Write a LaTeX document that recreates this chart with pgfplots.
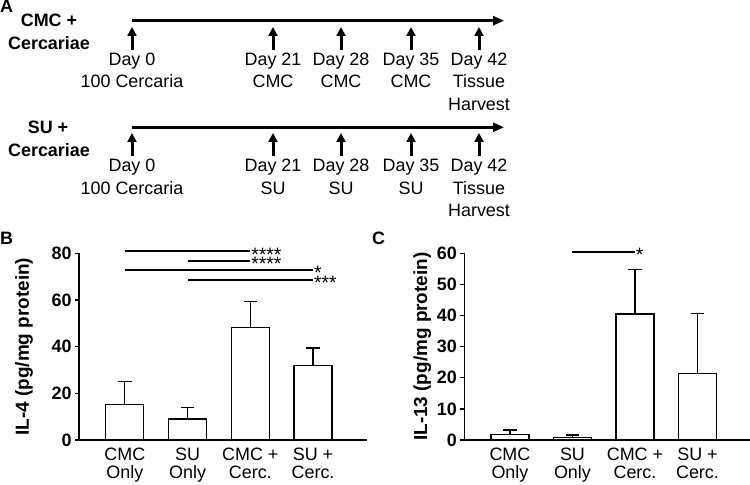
\documentclass[border=0pt]{standalone}
\usepackage{pgfplots}
\pgfplotsset{compat=1.18}
\usepackage{fontspec}
\setmainfont{Liberation Sans}
\usetikzlibrary{arrows.meta}
\newcommand\fs{\fontsize{18}{22.5}\selectfont}
\newcommand\sfs{\fontsize{19.5}{20}\selectfont}

\pgfplotsset{
  barpanel/.style={
    scale only axis, anchor=south west, clip=false,
    axis x line=bottom, axis y line=left, axis line style={-, line width=1.3bp},
    xtick={1,2,3,4},
    xticklabels={CMC\\Only, SU\\Only, CMC +\\Cerc., SU +\\Cerc.},
    xticklabel style={align=center, font=\fontsize{18}{19}\selectfont},
    x tick style={draw=none},
    y tick style={line width=1.3bp, black},
    tick align=outside, major tick length=4bp,
    yticklabel style={font=\bfseries\fontsize{18}{20}\selectfont},
    /pgf/number format/assume math mode=true,
    ylabel style={font=\bfseries\fontsize{19}{20}\selectfont, anchor=center},
    ybar, bar width=38bp,
  },
  barstyle/.style={
    fill=white, draw=black, line width=1.3bp,
    error bars/.cd, y dir=plus, y explicit,
    error bar style={line width=1.3bp, black},
    error mark options={rotate=90, line width=1.3bp, mark size=6.7bp, black},
  },
}

\begin{document}
\begin{tikzpicture}[x=1bp,y=-1bp]
\useasboundingbox (0,0) rectangle (750,485);
\coordinate (Bo) at (79,440);
\coordinate (Co) at (464.3,440);

% ---------- Panel A ----------
\node[anchor=base west, inner sep=0, font=\bfseries\fs] at (0,13) {A};
\node[anchor=base west, inner sep=0, font=\bfseries\fs] at (0,245) {B};
\node[anchor=base west, inner sep=0, font=\bfseries\fs] at (372,245) {C};

\node[anchor=base, inner sep=0, font=\bfseries\fs] at (49,26.7) {CMC +};
\node[anchor=base, inner sep=0, font=\bfseries\fs] at (49,50) {Cercariae};
\node[anchor=base, inner sep=0, font=\bfseries\fs] at (48,133.3) {SU +};
\node[anchor=base, inner sep=0, font=\bfseries\fs] at (49,156.7) {Cercariae};

\draw[line width=3.3bp, -{Triangle[length=11bp,width=9bp]}] (132,20.7) -- (504,20.7);
\draw[line width=3.3bp, -{Triangle[length=11bp,width=9bp]}] (132,127.3) -- (504,127.3);

\foreach \xx in {132,273,341,411,479}{
  \draw[line width=3bp, -{Triangle[length=9bp,width=9bp]}] (\xx,50) -- (\xx,27);
  \draw[line width=3bp, -{Triangle[length=9bp,width=9bp]}] (\xx,156) -- (\xx,133);
}

% timeline 1 labels
\node[anchor=base, inner sep=0, font=\fs] at (132,65.5) {Day 0};
\node[anchor=base, inner sep=0, font=\fs] at (132,88) {100 Cercaria};
\node[anchor=base, inner sep=0, font=\fs] at (273,65.5) {Day 21};
\node[anchor=base, inner sep=0, font=\fs] at (273,88) {CMC};
\node[anchor=base, inner sep=0, font=\fs] at (341,65.5) {Day 28};
\node[anchor=base, inner sep=0, font=\fs] at (341,88) {CMC};
\node[anchor=base, inner sep=0, font=\fs] at (411,65.5) {Day 35};
\node[anchor=base, inner sep=0, font=\fs] at (411,88) {CMC};
\node[anchor=base, inner sep=0, font=\fs] at (479,65.5) {Day 42};
\node[anchor=base, inner sep=0, font=\fs] at (479,88) {Tissue};
\node[anchor=base, inner sep=0, font=\fs] at (479,110.5) {Harvest};
% timeline 2 labels
\node[anchor=base, inner sep=0, font=\fs] at (132,172) {Day 0};
\node[anchor=base, inner sep=0, font=\fs] at (132,194.5) {100 Cercaria};
\node[anchor=base, inner sep=0, font=\fs] at (273,172) {Day 21};
\node[anchor=base, inner sep=0, font=\fs] at (273,194.5) {SU};
\node[anchor=base, inner sep=0, font=\fs] at (341,172) {Day 28};
\node[anchor=base, inner sep=0, font=\fs] at (341,194.5) {SU};
\node[anchor=base, inner sep=0, font=\fs] at (411,172) {Day 35};
\node[anchor=base, inner sep=0, font=\fs] at (411,194.5) {SU};
\node[anchor=base, inner sep=0, font=\fs] at (479,172) {Day 42};
\node[anchor=base, inner sep=0, font=\fs] at (479,194.5) {Tissue};
\node[anchor=base, inner sep=0, font=\fs] at (479,217) {Harvest};

% ---------- Panel B ----------
\begin{axis}[barpanel, at={(Bo)}, width=288bp, height=186.7bp,
  xmin=0.27, xmax=4.86, ymin=0, ymax=80, ytick={0,20,40,60,80},
  ylabel={IL-4 (pg/mg protein)},
  ylabel style={at={(axis description cs:-0.191,0.5)}}]
\addplot[barstyle] coordinates {
  (1,15.3) +- (0,9.8)
  (2,9.0)  +- (0,5.0)
  (3,48.2) +- (0,11.2)
  (4,32.0) +- (0,7.4)
};
\draw[line width=2bp] (axis cs:1,80.8) -- (axis cs:3,80.8)
  node[anchor=base west, inner sep=0, yshift=-10bp, font=\sfs] {****};
\draw[line width=2bp] (axis cs:2,76.9) -- (axis cs:3,76.9)
  node[anchor=base west, inner sep=0, yshift=-10bp, font=\sfs] {****};
\draw[line width=2bp] (axis cs:1,72.9) -- (axis cs:4,72.9)
  node[anchor=base west, inner sep=0, yshift=-10bp, font=\sfs] {*};
\draw[line width=2bp] (axis cs:2,68.7) -- (axis cs:4,68.7)
  node[anchor=base west, inner sep=0, yshift=-10bp, font=\sfs] {***};
\end{axis}

% ---------- Panel C ----------
\begin{axis}[barpanel, at={(Co)}, width=285.7bp, height=186.7bp,
  xmin=0.27, xmax=4.84, ymin=0, ymax=60, ytick={0,10,20,30,40,50,60},
  ylabel={IL-13 (pg/mg protein)},
  ylabel style={at={(axis description cs:-0.147,0.5)}}]
\addplot[barstyle] coordinates {
  (1,1.8)  +- (0,1.4)
  (2,0.85) +- (0,0.75)
  (3,40.5) +- (0,14.4)
  (4,21.4) +- (0,19.3)
};
\draw[line width=2bp] (axis cs:2,60.5) -- (axis cs:3,60.5)
  node[anchor=base west, inner sep=0, yshift=-10bp, font=\sfs] {*};
\end{axis}
\end{tikzpicture}
\end{document}
